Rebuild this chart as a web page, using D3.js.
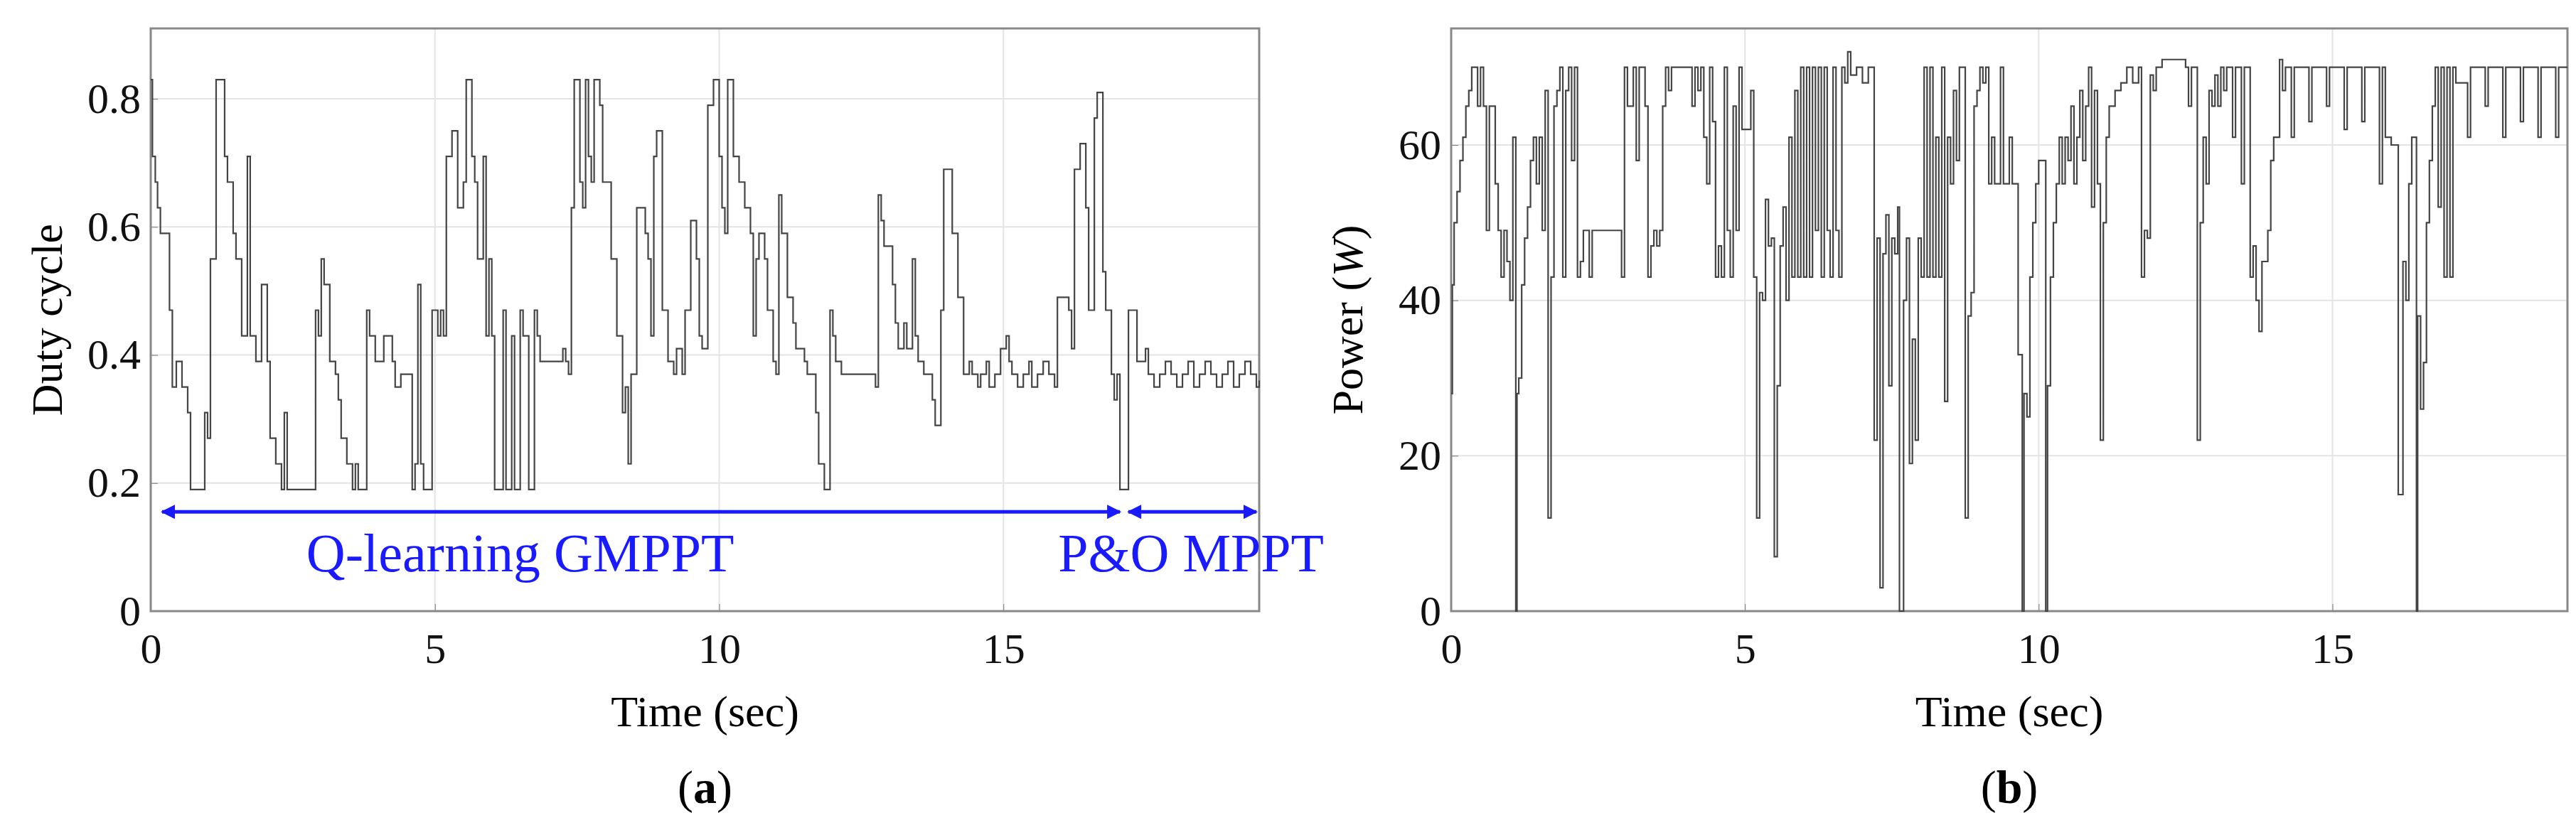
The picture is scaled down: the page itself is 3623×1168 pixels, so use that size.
<!DOCTYPE html>
<html><head><meta charset="utf-8">
<script src="https://cdn.jsdelivr.net/npm/d3@7"></script>
<style>body{margin:0;background:#fff}</style>
</head><body><div id="graf"></div>
<script>
// -- Datos: ciclo de trabajo (escalones)
dutyT = [0,0.03,0.08,0.12,0.17,0.22,0.33,0.38,0.45,0.55,0.65,0.7,0.95,1.0,1.05,1.15,1.3,1.35,1.45,1.5,1.6,1.7,1.75,1.85,1.95,2.05,2.1,2.2,2.3,2.35,2.4,2.9,2.95,3.0,3.05,3.15,3.25,3.3,3.35,3.45,3.55,3.6,3.65,3.8,3.85,3.95,4.1,4.25,4.3,4.4,4.6,4.65,4.7,4.75,4.8,4.95,5.05,5.1,5.15,5.2,5.3,5.4,5.5,5.55,5.65,5.7,5.75,5.85,5.9,5.95,6.0,6.05,6.2,6.25,6.35,6.4,6.5,6.55,6.65,6.75,6.8,6.85,7.25,7.3,7.35,7.4,7.45,7.55,7.6,7.65,7.7,7.75,7.8,7.9,7.95,8.1,8.2,8.3,8.35,8.4,8.45,8.55,8.7,8.75,8.8,8.85,8.9,9.0,9.1,9.2,9.25,9.35,9.4,9.5,9.6,9.65,9.7,9.8,9.9,10.0,10.05,10.1,10.15,10.25,10.35,10.45,10.55,10.6,10.65,10.7,10.8,10.85,10.95,11.0,11.05,11.1,11.2,11.3,11.35,11.5,11.55,11.7,11.75,11.85,11.95,12.0,12.05,12.15,12.75,12.8,12.85,12.9,13.05,13.1,13.15,13.25,13.3,13.4,13.45,13.5,13.6,13.75,13.8,13.9,13.95,14.1,14.2,14.3,14.4,14.45,14.55,14.6,14.7,14.75,14.85,14.95,15.05,15.1,15.15,15.25,15.35,15.45,15.5,15.6,15.7,15.8,15.9,15.95,16.15,16.2,16.25,16.35,16.45,16.5,16.6,16.65,16.75,16.8,16.9,16.95,17.0,17.05,17.2,17.35,17.5,17.55,17.65,17.75,17.85,17.95,18.05,18.15,18.25,18.35,18.45,18.55,18.65,18.75,18.85,18.95,19.05,19.15,19.25,19.35,19.45,19.5]
dutyV = [0.83,0.71,0.67,0.63,0.59,0.59,0.47,0.35,0.39,0.35,0.31,0.19,0.31,0.27,0.55,0.83,0.71,0.67,0.59,0.55,0.43,0.71,0.43,0.39,0.51,0.39,0.27,0.23,0.19,0.31,0.19,0.47,0.43,0.55,0.51,0.39,0.37,0.33,0.27,0.23,0.19,0.23,0.19,0.47,0.43,0.39,0.43,0.39,0.35,0.37,0.19,0.23,0.51,0.23,0.19,0.47,0.43,0.47,0.43,0.71,0.75,0.63,0.67,0.83,0.71,0.67,0.55,0.71,0.43,0.55,0.43,0.19,0.47,0.19,0.43,0.19,0.47,0.43,0.19,0.47,0.43,0.39,0.41,0.39,0.37,0.63,0.83,0.67,0.63,0.83,0.71,0.67,0.83,0.79,0.67,0.55,0.43,0.31,0.35,0.23,0.37,0.63,0.59,0.55,0.43,0.71,0.75,0.47,0.39,0.37,0.41,0.37,0.47,0.61,0.55,0.43,0.41,0.79,0.83,0.71,0.63,0.59,0.83,0.71,0.67,0.63,0.59,0.43,0.55,0.59,0.55,0.47,0.39,0.37,0.65,0.59,0.49,0.45,0.41,0.39,0.37,0.31,0.23,0.19,0.47,0.43,0.39,0.37,0.35,0.65,0.61,0.57,0.51,0.45,0.41,0.45,0.41,0.55,0.43,0.39,0.37,0.33,0.29,0.47,0.69,0.59,0.49,0.37,0.39,0.37,0.35,0.37,0.39,0.35,0.37,0.41,0.43,0.39,0.37,0.35,0.37,0.39,0.35,0.37,0.39,0.37,0.35,0.49,0.47,0.41,0.69,0.73,0.63,0.47,0.77,0.81,0.53,0.47,0.37,0.33,0.37,0.19,0.47,0.39,0.41,0.37,0.35,0.37,0.39,0.37,0.35,0.37,0.39,0.35,0.37,0.39,0.37,0.35,0.37,0.39,0.35,0.37,0.39,0.37,0.35,0.36]

// -- Datos: potencia, pares [tiempo, W] (escalones)
powSteps = [[0,28],[0.02,42],[0.05,50],[0.1,54],[0.15,58],[0.2,61],[0.25,65],[0.3,67],[0.35,70],[0.45,65],[0.5,70],[0.55,65],[0.6,49],[0.65,65],[0.75,55],[0.8,49],[0.85,43],[0.9,49],[0.95,45],[1.0,40],[1.05,61],[1.1,0],[1.12,28],[1.15,30],[1.2,42],[1.25,48],[1.3,52],[1.35,58],[1.4,61],[1.45,55],[1.5,61],[1.55,49],[1.6,67],[1.65,12],[1.7,43],[1.75,65],[1.8,67],[1.85,70],[1.9,43],[1.95,67],[2.0,70],[2.05,58],[2.1,70],[2.15,43],[2.2,45],[2.25,49],[2.35,43],[2.4,49],[2.9,43],[2.95,70],[3.0,65],[3.1,70],[3.15,58],[3.2,70],[3.3,65],[3.35,43],[3.4,47],[3.45,49],[3.5,47],[3.55,49],[3.6,65],[3.65,70],[3.7,67],[3.75,70],[4.1,65],[4.15,70],[4.2,67],[4.25,70],[4.3,61],[4.35,55],[4.4,70],[4.45,63],[4.5,43],[4.55,47],[4.6,43],[4.65,70],[4.7,49],[4.75,43],[4.8,65],[4.85,49],[4.9,70],[4.95,62],[5.1,67],[5.15,43],[5.2,12],[5.25,41],[5.3,40],[5.35,53],[5.4,47],[5.45,48],[5.5,7],[5.55,29],[5.6,47],[5.65,52],[5.7,40],[5.75,61],[5.8,43],[5.85,67],[5.9,43],[5.95,70],[6.0,43],[6.05,70],[6.1,43],[6.15,70],[6.2,49],[6.25,70],[6.3,43],[6.35,70],[6.4,49],[6.45,43],[6.5,70],[6.55,49],[6.6,43],[6.65,70],[6.7,68],[6.75,72],[6.8,69],[6.9,70],[7.0,68],[7.1,70],[7.2,22],[7.25,48],[7.3,3],[7.35,46],[7.4,51],[7.45,29],[7.5,48],[7.55,46],[7.6,52],[7.63,0],[7.7,40],[7.75,48],[7.8,19],[7.85,35],[7.9,22],[7.95,48],[8.0,43],[8.05,70],[8.1,43],[8.15,70],[8.2,43],[8.25,61],[8.3,43],[8.35,70],[8.4,27],[8.45,61],[8.5,55],[8.55,67],[8.6,58],[8.65,70],[8.75,12],[8.8,38],[8.85,41],[8.9,65],[8.95,67],[9.0,70],[9.05,68],[9.1,70],[9.15,55],[9.2,61],[9.25,55],[9.35,70],[9.4,55],[9.5,61],[9.55,55],[9.65,33],[9.72,0],[9.75,28],[9.8,25],[9.85,43],[9.9,50],[9.95,55],[10.0,58],[10.12,0],[10.15,29],[10.2,43],[10.25,50],[10.3,55],[10.35,61],[10.4,55],[10.45,61],[10.5,58],[10.55,65],[10.6,55],[10.65,61],[10.7,67],[10.75,58],[10.8,65],[10.85,70],[10.9,52],[10.95,67],[11.0,55],[11.05,22],[11.1,50],[11.15,61],[11.2,65],[11.3,67],[11.4,68],[11.5,70],[11.6,68],[11.7,70],[11.75,43],[11.8,49],[11.85,48],[11.9,69],[11.95,67],[12.0,70],[12.1,71],[12.5,70],[12.55,65],[12.6,70],[12.7,22],[12.75,50],[12.8,61],[12.85,55],[12.9,67],[12.95,65],[13.0,69],[13.05,65],[13.1,70],[13.15,67],[13.2,70],[13.3,61],[13.35,70],[13.45,55],[13.5,70],[13.6,43],[13.65,47],[13.7,40],[13.75,36],[13.8,45],[13.9,49],[13.95,58],[14.0,61],[14.1,71],[14.15,67],[14.2,70],[14.3,61],[14.35,70],[14.6,63],[14.65,70],[14.9,65],[14.95,70],[15.2,62],[15.25,70],[15.5,63],[15.55,70],[15.8,55],[15.85,70],[15.9,61],[16.0,60],[16.12,15],[16.2,45],[16.25,40],[16.3,55],[16.35,61],[16.43,0],[16.45,38],[16.5,26],[16.55,32],[16.6,50],[16.65,58],[16.7,65],[16.75,70],[16.8,52],[16.85,70],[16.9,43],[16.95,70],[17.0,43],[17.05,70],[17.1,68],[17.3,61],[17.35,70],[17.6,65],[17.65,70],[17.9,61],[17.95,70],[18.2,63],[18.25,70],[18.5,61],[18.55,70],[18.8,61],[18.85,70],[19.0,70]]

dutyTicks = [0, 0.2, 0.4, 0.6, 0.8]
powTicks = [0, 20, 40, 60]
timeTicks = [0, 5, 10, 15]

serif = '"Liberation Serif", "DejaVu Serif", serif'
svg = d3.select('#graf').append('svg')
        .attr('width', 3623).attr('height', 1168)
        .style('font-family', serif)

function panel (opt) {
    x = d3.scaleLinear().domain(opt.xDom).range([opt.left, opt.right])
    y = d3.scaleLinear().domain(opt.yDom).range([860, 40])
    g = svg.append('g')
    // -- grid
    g.selectAll('.gx').data(timeTicks.slice(1)).enter().append('line')
        .attr('x1', d => x(d)).attr('x2', d => x(d)).attr('y1', 40).attr('y2', 860)
        .attr('stroke', '#e4e4e4').attr('stroke-width', 2)
    g.selectAll('.gy').data(opt.yTicks.slice(1)).enter().append('line')
        .attr('x1', opt.left).attr('x2', opt.right).attr('y1', d => y(d)).attr('y2', d => y(d))
        .attr('stroke', '#e4e4e4').attr('stroke-width', 2)
    // -- ejes
    g.append('g').attr('transform', 'translate(0,860)')
        .call(d3.axisBottom(x).tickValues(timeTicks).tickSize(-10).tickPadding(30).tickSizeOuter(0))
    g.append('g').attr('transform', `translate(${opt.left},0)`)
        .call(d3.axisLeft(y).tickValues(opt.yTicks).tickSize(-10).tickPadding(14).tickSizeOuter(0).tickFormat(opt.fmt))
    g.selectAll('.tick text').attr('font-size', 60).attr('font-family', serif).attr('fill', '#111')
    g.selectAll('.tick line').attr('stroke', '#777')
    g.selectAll('.domain').remove()
    g.append('rect').attr('x', opt.left).attr('y', 40)
        .attr('width', opt.right - opt.left).attr('height', 820)
        .attr('fill', 'none').attr('stroke', '#888').attr('stroke-width', 3)
    // -- serie
    g.append('path').datum(opt.pts)
        .attr('d', d3.line().x(d => x(d[0])).y(d => y(d[1])).curve(d3.curveStepAfter))
        .attr('fill', 'none').attr('stroke', '#444').attr('stroke-width', 2.2)
    // -- etiquetas
    g.append('text').attr('x', (opt.left + opt.right) / 2).attr('y', 1022)
        .attr('text-anchor', 'middle').attr('font-size', 62).text('Time (sec)')
    g.append('text').attr('transform', `translate(${opt.left - 125},450) rotate(-90)`)
        .attr('text-anchor', 'middle').attr('font-size', 62).html(opt.yLabel)
    g.append('text').attr('x', (opt.left + opt.right) / 2).attr('y', 1130)
        .attr('text-anchor', 'middle').attr('font-size', 66)
        .html(`(<tspan font-weight="bold">${opt.letter}</tspan>)`)
    return {x, y, g}
}

a = panel({left: 212, right: 1771, xDom: [0, 19.5], yDom: [0, 0.91], yTicks: dutyTicks,
           fmt: d => d === 0 ? '0' : d3.format('.1f')(d), pts: dutyT.map((t, i) => [t, dutyV[i]]),
           yLabel: 'Duty cycle', letter: 'a'})
b = panel({left: 2041, right: 3611, xDom: [0, 19], yDom: [0, 75], yTicks: powTicks,
           fmt: d => d, pts: powSteps, yLabel: 'Power (<tspan font-style="italic">W</tspan>)', letter: 'b'})

// -- flechas de fases
blue = '#1a1aff'
defs = svg.append('defs')
defs.append('marker').attr('id', 'ah').attr('viewBox', '0 0 10 10').attr('refX', 9).attr('refY', 5)
    .attr('markerWidth', 6).attr('markerHeight', 4).attr('orient', 'auto-start-reverse')
    .append('path').attr('d', 'M0,0 L10,5 L0,10 z').attr('fill', blue)
phases = [[0.2, 17.05], [17.2, 19.45]]
phaseLabels = ['Q-learning GMPPT', 'P&O MPPT']
phaseLabelT = [6.5, 18.3]
phases.forEach((p, i) => {
    a.g.append('line').attr('x1', a.x(p[0])).attr('x2', a.x(p[1]))
        .attr('y1', a.y(0.155)).attr('y2', a.y(0.155))
        .attr('stroke', blue).attr('stroke-width', 5)
        .attr('marker-start', 'url(#ah)').attr('marker-end', 'url(#ah)')
    a.g.append('text').attr('x', a.x(phaseLabelT[i])).attr('y', a.y(0.062))
        .attr('text-anchor', 'middle').attr('font-size', 76).attr('fill', blue).text(phaseLabels[i])
})
</script></body></html>
